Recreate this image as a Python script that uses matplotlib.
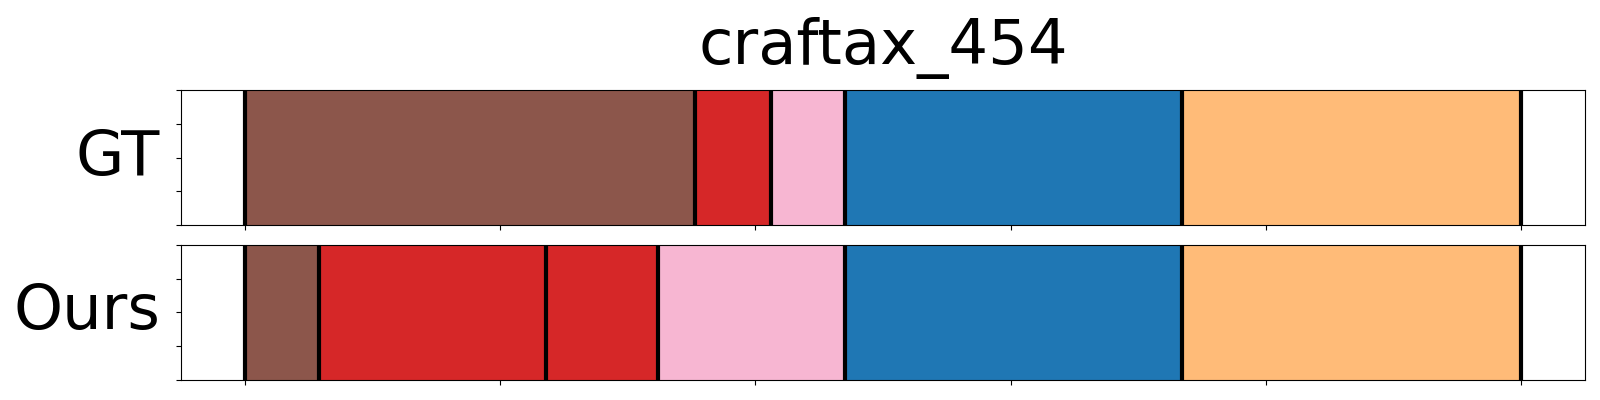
import matplotlib
matplotlib.use("Agg")
import matplotlib.pyplot as plt

# Segmentos (inicio, fin, color) por fila
title = "craftax_454"
row_labels = ["GT", "Ours"]

gt_starts = [0, 176.5, 206, 235, 367]
gt_ends = [176.5, 206, 235, 367, 500]
gt_colors = ["#8c564b", "#d62728", "#f7b6d2", "#1f77b4", "#ffbb78"]

ours_starts = [0, 29, 118, 162, 235, 367]
ours_ends = [29, 118, 162, 235, 367, 500]
ours_colors = ["#8c564b", "#d62728", "#d62728", "#f7b6d2", "#1f77b4", "#ffbb78"]

rows = [
    (gt_starts, gt_ends, gt_colors),
    (ours_starts, ours_ends, ours_colors),
]

fig, axes = plt.subplots(2, 1, figsize=(16, 4), dpi=100, sharex=True)
fig.subplots_adjust(left=0.113, right=0.9906, top=0.775, bottom=0.05, hspace=0.148)

for ax, label, (starts, ends, colors) in zip(axes, row_labels, rows):
    widths = [e - s for s, e in zip(starts, ends)]
    ax.barh(0.5, widths, left=starts, height=1, color=colors, edgecolor="none")
    for s in starts + [ends[-1]]:
        ax.axvline(s, color="black", linewidth=3)
    ax.set_ylim(0, 1)
    ax.set_yticks([0, 0.25, 0.5, 0.75, 1.0])
    ax.set_yticklabels([])
    ax.set_xticks([0, 100, 200, 300, 400, 500])
    ax.tick_params(labelbottom=False)
    ax.set_ylabel(label, fontsize=45, rotation=0, ha="right", va="center", labelpad=8)

axes[0].set_xlim(-25, 525)
axes[0].set_title(title, fontsize=45, pad=19)

plt.savefig("out.png", dpi=100)
